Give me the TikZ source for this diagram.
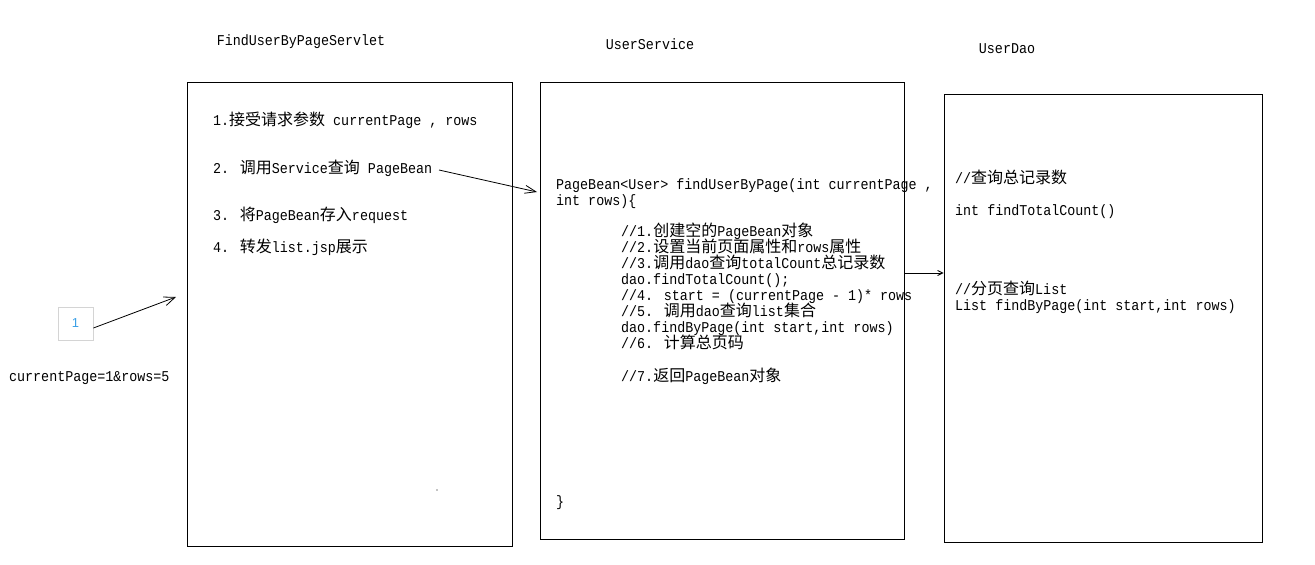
\documentclass[tikz,border=0pt]{standalone}
\usepackage{fontspec}
\setmainfont[FakeStretch=0.89]{Liberation Mono}
\newfontfamily\cjk[Scale=1.0667]{Noto Sans CJK SC}
\newfontfamily\numfont{Liberation Sans}
\usetikzlibrary{arrows.meta}
\definecolor{boxgray}{RGB}{212,212,212}
\definecolor{numblue}{RGB}{60,160,230}
\begin{document}
\begin{tikzpicture}[x=1pt,y=-1pt,
  frame/.style={draw,line width=1pt,inner sep=0pt},
  txt/.style={anchor=west,inner sep=0pt,font=\fontsize{15}{16}\selectfont,text height=11pt,text depth=3pt},
  title/.style={inner sep=0pt,font=\fontsize{15}{16}\selectfont,text height=11pt,text depth=3pt},
  arr/.style={line width=0.8pt}]
\useasboundingbox (0,0) rectangle (1315,565);
% boxes
\node[frame,minimum width=325pt,minimum height=464pt] (servlet) at (349.5,314) {};
\node[frame,minimum width=364pt,minimum height=457pt] (service) at (722,310.5) {};
\node[frame,minimum width=318pt,minimum height=448pt] (dao) at (1103,318) {};
% titles
\node[title] (t1) at (301,41) {FindUserByPageServlet};
\node[title] (t2) at (650,45) {UserService};
\node[title] (t3) at (1007,49) {UserDao};
% small box
\node[draw=boxgray,line width=0.8pt,minimum width=35pt,minimum height=33pt,inner sep=0pt,text=numblue,font=\numfont\fontsize{13}{14}\selectfont] (num) at (75.5,323.5) {1};
\node[txt] (params) at (9,377) {currentPage=1\&rows=5};
% servlet text
\node[txt] (s1) at (213,121) {1.{\cjk 接受请求参数} currentPage , rows};
\node[txt] (s2) at (213,169) {2. {\cjk 调用}Service{\cjk 查询} PageBean};
\node[txt] (s3) at (213,216) {3. {\cjk 将}PageBean{\cjk 存入}request};
\node[txt] (s4) at (213,248) {4. {\cjk 转发}list.jsp{\cjk 展示}};
\fill (437,490) circle (0.6pt);
% service text
\node[txt] (c1) at (556,185) {PageBean<User> findUserByPage(int currentPage ,};
\node[txt] (c2) at (556,201) {int rows)\{};
\node[txt] (c3) at (621,232) {//1.{\cjk 创建空的}PageBean{\cjk 对象}};
\node[txt] (c4) at (621,248) {//2.{\cjk 设置当前页面属性和}rows{\cjk 属性}};
\node[txt] (c5) at (621,264) {//3.{\cjk 调用}dao{\cjk 查询}totalCount{\cjk 总记录数}};
\node[txt] (c6) at (621,280) {dao.findTotalCount();};
\node[txt] (c7) at (621,296) {//4. start = (currentPage - 1)* rows};
\node[txt] (c8) at (621,312) {//5. {\cjk 调用}dao{\cjk 查询}list{\cjk 集合}};
\node[txt] (c9) at (621,328) {dao.findByPage(int start,int rows)};
\node[txt] (c10) at (621,344) {//6. {\cjk 计算总页码}};
\node[txt] (c11) at (621,377) {//7.{\cjk 返回}PageBean{\cjk 对象}};
\node[txt] (c12) at (556,502) {\}};
% dao text
\node[txt] (d1) at (955,179) {//{\cjk 查询总记录数}};
\node[txt] (d2) at (955,211) {int findTotalCount()};
\node[txt] (d3) at (955,290) {//{\cjk 分页查询}List};
\node[txt] (d4) at (955,306) {List findByPage(int start,int rows)};
% arrows
\coordinate (a1end) at (176,297);
\coordinate (a2start) at (439,170);
\coordinate (a2end) at (537,192);
\coordinate (lvl) at (0,273);
\draw[arr,-{Straight Barb[length=11pt,width=9pt]}] ([yshift=-4.5pt]num.east) -- (a1end);
\draw[arr,-{Straight Barb[length=11pt,width=8pt]}] (a2start) -- (a2end);
\draw[arr,-{Straight Barb[length=5pt,width=5pt]}] (service.east |- lvl) -- (dao.west |- lvl);
\end{tikzpicture}
\end{document}
